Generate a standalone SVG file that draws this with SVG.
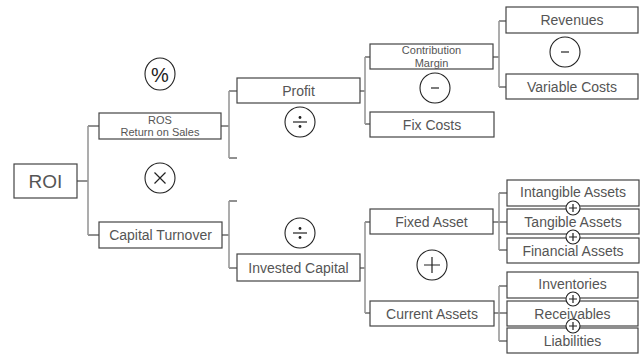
<svg xmlns="http://www.w3.org/2000/svg" width="643" height="354" viewBox="0 0 643 354">
<style>
.box{fill:#fff;stroke:#444;stroke-width:1.2}
.t{font-family:"Liberation Sans",Arial,sans-serif;font-size:14px;fill:#555;text-anchor:middle;dominant-baseline:central}
.t2{font-size:11px}
.v{stroke:#999;stroke-width:1.6;fill:none}
.h{stroke:#222;stroke-width:1;fill:none}
.op{fill:#fff;stroke:#222;stroke-width:1.1}
.sym{stroke:#222;stroke-width:1.2;fill:none}
.dot{fill:#222}
</style>
<rect width="643" height="354" fill="#fff"/>
<g id="connectors">
<path class="h" d="M77 181H88M88 126H99M88 235H99"/>
<path class="v" d="M88 126V235"/>
<path class="h" d="M221 126H229M229 91H237M229 158H237"/>
<path class="v" d="M229 91V158"/>
<path class="h" d="M222 235H229M229 201H237M229 268H237"/>
<path class="v" d="M229 201V268"/>
<path class="h" d="M360 91H365M365 57H370M365 124H370"/>
<path class="v" d="M365 57V124"/>
<path class="h" d="M360 268H365M365 222H370M365 313H370"/>
<path class="v" d="M365 222V313"/>
<path class="h" d="M493 57H499M499 21H506M499 87H506"/>
<path class="v" d="M499 21V87"/>
<path class="h" d="M493 222H499M499 193H507M499 222H507M499 250H507"/>
<path class="v" d="M499 193V250"/>
<path class="h" d="M494 313H499M499 286H507M499 313H507M499 341H507"/>
<path class="v" d="M499 286V341"/>
</g>
<g id="roi"><rect class="box" x="14" y="164" width="63" height="34"/><text class="t" x="45.5" y="181" style="font-size:19px">ROI</text></g>
<g id="ros"><rect class="box" x="99" y="113" width="122" height="26"/><text class="t t2" x="160" y="119.5">ROS</text><text class="t t2" x="160" y="132">Return on Sales</text></g>
<g id="capital-turnover"><rect class="box" x="99" y="222" width="123" height="26"/><text class="t" x="160.5" y="235">Capital Turnover</text></g>
<g id="profit"><rect class="box" x="237" y="78" width="123" height="25"/><text class="t" x="298.5" y="90.5">Profit</text></g>
<g id="invested-capital"><rect class="box" x="237" y="254" width="123" height="27"/><text class="t" x="298.5" y="267.5">Invested Capital</text></g>
<g id="contribution-margin"><rect class="box" x="370" y="44" width="123" height="25"/><text class="t t2" x="431.5" y="50">Contribution</text><text class="t t2" x="431.5" y="62.5">Margin</text></g>
<g id="fix-costs"><rect class="box" x="370" y="112" width="124" height="25"/><text class="t" x="432" y="124.5">Fix Costs</text></g>
<g id="fixed-asset"><rect class="box" x="370" y="209" width="123" height="25"/><text class="t" x="431.5" y="221.5">Fixed Asset</text></g>
<g id="current-assets"><rect class="box" x="370" y="301" width="124" height="25"/><text class="t" x="432" y="313.5">Current Assets</text></g>
<g id="revenues"><rect class="box" x="506" y="7" width="132" height="26"/><text class="t" x="572" y="20">Revenues</text></g>
<g id="variable-costs"><rect class="box" x="506" y="74" width="132" height="25"/><text class="t" x="572" y="86.5">Variable Costs</text></g>
<g id="intangible-assets"><rect class="box" x="507" y="180" width="132" height="26"/><text class="t" x="573" y="192">Intangible Assets</text></g>
<g id="tangible-assets"><rect class="box" x="507" y="209" width="132" height="25"/><text class="t" x="573" y="221.5">Tangible Assets</text></g>
<g id="financial-assets"><rect class="box" x="507" y="238" width="132" height="25"/><text class="t" x="573" y="251">Financial Assets</text></g>
<g id="inventories"><rect class="box" x="507" y="272" width="131" height="26"/><text class="t" x="572.5" y="284">Inventories</text></g>
<g id="receivables"><rect class="box" x="507" y="301" width="131" height="25"/><text class="t" x="572.5" y="314">Receivables</text></g>
<g id="liabilities"><rect class="box" x="507" y="328" width="131" height="25"/><text class="t" x="572.5" y="341">Liabilities</text></g>
<g id="op-percent"><ellipse class="op" cx="160" cy="74" rx="15" ry="16"/><text class="t" x="160" y="75" style="font-size:20px;fill:#222">%</text></g>
<g id="op-times"><circle class="op" cx="160" cy="178" r="15"/><path class="sym" d="M154.5 172.5L165.5 183.5M165.5 172.5L154.5 183.5"/></g>
<g id="op-div1"><circle class="op" cx="300" cy="122" r="15"/><path class="sym" d="M293 122H307"/><circle class="dot" cx="300" cy="117.5" r="1.4"/><circle class="dot" cx="300" cy="126.5" r="1.4"/></g>
<g id="op-div2"><circle class="op" cx="300" cy="233" r="15"/><path class="sym" d="M293 233H307"/><circle class="dot" cx="300" cy="228.5" r="1.4"/><circle class="dot" cx="300" cy="237.5" r="1.4"/></g>
<g id="op-minus1"><circle class="op" cx="435" cy="88" r="15"/><path class="sym" d="M431 88H439"/></g>
<g id="op-minus2"><circle class="op" cx="565" cy="52" r="15"/><path class="sym" d="M561 52H569"/></g>
<g id="op-plus"><circle class="op" cx="432" cy="265" r="15"/><path class="sym" d="M424 265H440M432 257V273"/></g>
<g id="op-plus-s1"><circle class="op" cx="573" cy="208" r="7"/><path class="sym" d="M569 208H577M573 204V212"/></g>
<g id="op-plus-s2"><circle class="op" cx="573" cy="237" r="7"/><path class="sym" d="M569 237H577M573 233V241"/></g>
<g id="op-plus-s3"><circle class="op" cx="573" cy="299" r="7"/><path class="sym" d="M569 299H577M573 295V303"/></g>
<g id="op-plus-s4"><circle class="op" cx="573" cy="326" r="7"/><path class="sym" d="M569 326H577M573 322V330"/></g>
</svg>
